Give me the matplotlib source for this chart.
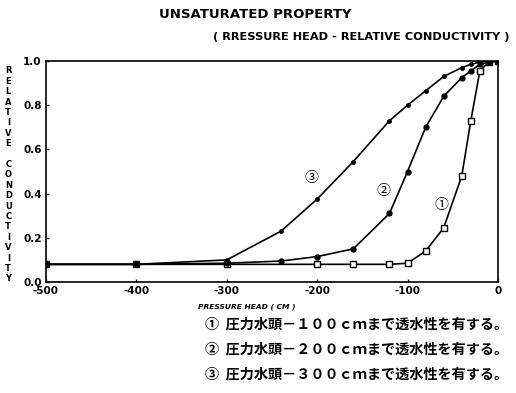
import matplotlib
matplotlib.use('Agg')
from matplotlib import pyplot as plt

# pressure head (cm) and relative conductivity for the three cases
HEAD_1 = [-500, -400, -300, -200, -160, -120, -100, -80, -60, -40, -30, -20, -10, 0]
COND_1 = [0.08, 0.08, 0.08, 0.08, 0.08, 0.08, 0.085, 0.14, 0.245, 0.48, 0.73, 0.955, 0.995, 1.0]

HEAD_2 = [-500, -400, -300, -240, -200, -160, -120, -100, -80, -60, -40, -30, -20, -10, 0]
COND_2 = [0.08, 0.08, 0.085, 0.095, 0.115, 0.15, 0.31, 0.50, 0.70, 0.84, 0.925, 0.955, 0.985, 0.995, 1.0]

HEAD_3 = [-500, -400, -300, -240, -200, -160, -120, -100, -80, -60, -40, -30, -20, -10, 0]
COND_3 = [0.08, 0.08, 0.10, 0.23, 0.375, 0.545, 0.73, 0.80, 0.865, 0.93, 0.97, 0.985, 0.995, 1.0, 1.0]

X_TICKS = [-500, -400, -300, -200, -100, 0]
Y_TICKS = [0.0, 0.2, 0.4, 0.6, 0.8, 1.0]

NOTES = ["①  圧力水頭－１００ｃｍまで透水性を有する。",
         "②  圧力水頭－２００ｃｍまで透水性を有する。",
         "③  圧力水頭－３００ｃｍまで透水性を有する。"]

CJK = ['Noto Sans CJK JP', 'DejaVu Sans']

fig = plt.figure(figsize=(5.16, 3.93), dpi=100)
ax = fig.add_axes([0.089, 0.2824, 0.876, 0.5624])

ax.plot(HEAD_1, COND_1, color='black', lw=1.2, marker='s', ms=4,
        mfc='white', mec='black', mew=1.0)
ax.plot(HEAD_2, COND_2, color='black', lw=1.2, marker='o', ms=3.5)
ax.plot(HEAD_3, COND_3, color='black', lw=1.2, marker='o', ms=2.5)

ax.set_xlim(-500, 0)
ax.set_ylim(0, 1.0)
ax.set_xticks(X_TICKS)
ax.set_yticks(Y_TICKS)
ax.set_xticklabels([str(v) for v in X_TICKS], fontsize=7.5, fontweight='bold')
ax.set_yticklabels(["%.1f" % v for v in Y_TICKS], fontsize=7.5, fontweight='bold')
ax.tick_params(direction='in', length=2, width=1, pad=3)
for s in ax.spines.values():
    s.set_linewidth(1.2)

# curve labels
ax.text(-206, 0.47, "③", fontsize=10, family=CJK, ha='center', va='center')
ax.text(-127, 0.41, "②", fontsize=10, family=CJK, ha='center', va='center')
ax.text(-63, 0.35, "①", fontsize=10, family=CJK, ha='center', va='center')

fig.text(0.495, 0.962, "UNSATURATED PROPERTY", fontsize=9.5, fontweight='bold',
         ha='center', va='center')
fig.text(0.988, 0.905, "( RRESSURE HEAD - RELATIVE CONDUCTIVITY )", fontsize=8.2,
         fontweight='bold', ha='right', va='center')
fig.text(0.478, 0.219, "PRESSURE HEAD ( CM )", fontsize=5.4, fontweight='bold',
         style='italic', ha='center', va='center')

# stacked y label
fig.text(0.016, 0.555, "\n".join("RELATIVE CONDUCTIVITY"), fontsize=6,
         fontweight='bold', ha='center', va='center', linespacing=1.2)

for i, note in enumerate(NOTES):
    fig.text(0.397, 0.175 - i * 0.0636, note, fontsize=10.2, family=CJK,
             fontweight='bold', ha='left', va='center')

plt.savefig("out.png", dpi=100)
